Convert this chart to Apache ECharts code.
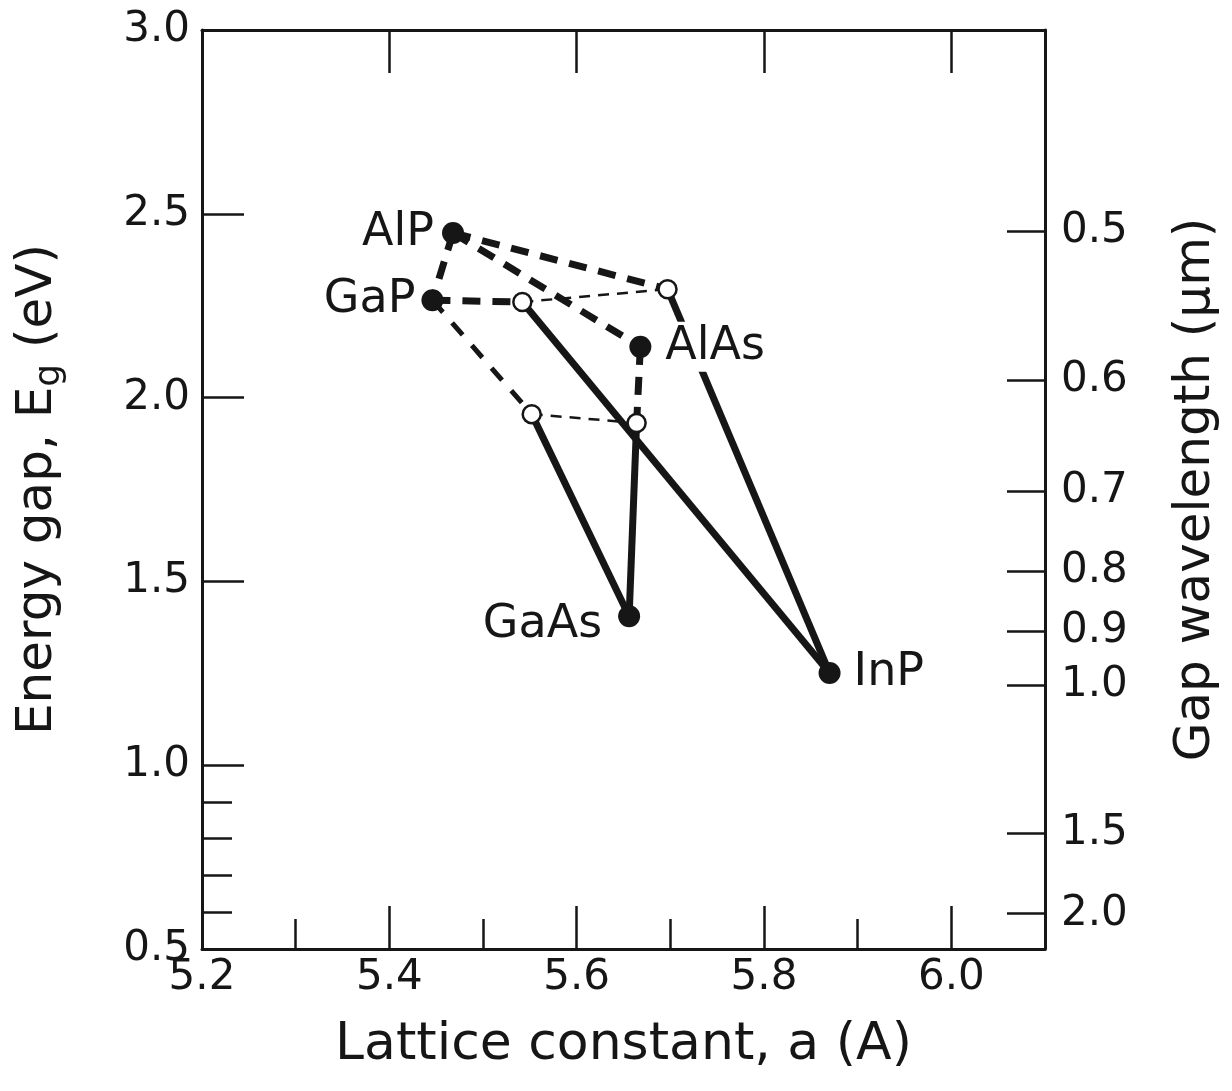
<!DOCTYPE html>
<html>
<head>
<meta charset="utf-8">
<script src="https://cdn.jsdelivr.net/npm/echarts@6/dist/echarts.min.js"></script>
<style>
  html, body { margin: 0; padding: 0; background: #fff; }
  #main { width: 1232px; height: 1091px; }
</style>
</head>
<body>
<div id="main"></div>
<script>
// binary compounds (filled dots)
const compounds = ['AlP', 'GaP', 'AlAs', 'GaAs', 'InP'];
const compoundA = [5.468, 5.446, 5.668, 5.656, 5.870];
const compoundEg = [2.448, 2.265, 2.138, 1.405, 1.251];

// direct-indirect crossover points (open circles)
const crossKeys = ['c1', 'c2', 'c3', 'c4'];
const crossA = [5.542, 5.697, 5.552, 5.664];
const crossEg = [2.260, 2.295, 1.955, 1.931];

// connecting lines: from, to, style
const segments = [
  ['AlP', 'c2', 'thick'],
  ['c2', 'InP', 'solid'],
  ['AlP', 'AlAs', 'thick'],
  ['AlP', 'GaP', 'thick'],
  ['GaP', 'c1', 'thick'],
  ['c1', 'InP', 'solid'],
  ['c1', 'c2', 'thin'],
  ['GaP', 'c3', 'medium'],
  ['c3', 'GaAs', 'solid'],
  ['c3', 'c4', 'thin'],
  ['AlAs', 'c4', 'thick'],
  ['c4', 'GaAs', 'solid']
];

// axes
const xLabels = [5.2, 5.4, 5.6, 5.8, 6.0];
const xMajor = [5.4, 5.6, 5.8, 6.0];
const xMinor = [5.3, 5.5, 5.7, 5.9];
const yMinor = [0.6, 0.7, 0.8, 0.9];
const wavelengthLabels = ['0.5', '0.6', '0.7', '0.8', '0.9', '1.0', '1.5', '2.0'];
const wavelengthTickEg = [2.453, 2.048, 1.746, 1.528, 1.365, 1.218, 0.816, 0.596];

const ink = '#161616';
const font = 'DejaVu Sans';

const pts = {};
compounds.forEach((k, i) => { pts[k] = [compoundA[i], compoundEg[i]]; });
crossKeys.forEach((k, i) => { pts[k] = [crossA[i], crossEg[i]]; });

const lineStyles = {
  thick: { width: 7, type: [18, 12] },
  medium: { width: 5, type: [16, 14] },
  thin: { width: 2.5, type: [11, 8] },
  solid: { width: 7, type: 'solid' }
};

const labelPos = {
  AlP: { position: 'left', distance: 8 },
  GaP: { position: 'left', distance: 6 },
  AlAs: { position: 'right', distance: 10, backgroundColor: '#fff', padding: [2, 4, 2, 4] },
  GaAs: { position: 'left', distance: 16, offset: [0, 9] },
  InP: { position: 'right', distance: 13 }
};

const series = segments.map(s => ({
  type: 'line',
  data: [pts[s[0]], pts[s[1]]],
  symbol: 'none',
  silent: true,
  z: 2,
  lineStyle: Object.assign({ color: ink, cap: 'butt', opacity: 1 }, lineStyles[s[2]])
}));

series.push({
  type: 'scatter',
  z: 4,
  symbolSize: 18,
  silent: true,
  itemStyle: { color: '#fff', borderColor: ink, borderWidth: 2.5, opacity: 1 },
  data: crossKeys.map(k => pts[k])
});

series.push({
  type: 'scatter',
  z: 5,
  symbolSize: 22,
  silent: true,
  itemStyle: { color: ink, opacity: 1 },
  data: compounds.map(k => ({
    value: pts[k],
    label: Object.assign({
      show: true,
      formatter: k,
      color: ink,
      opacity: 1,
      fontFamily: font,
      fontSize: 46
    }, labelPos[k])
  }))
});

const tickText = { color: ink, fontFamily: font, fontSize: 42 };

const option = {
  backgroundColor: '#fff',
  animation: false,
  grid: { left: 202, right: 187, top: 30, bottom: 142, containLabel: false, outerBoundsMode: 'none' },
  xAxis: [
    {
      type: 'value', position: 'bottom', min: 5.2, max: 6.1,
      axisLine: { lineStyle: { color: ink, width: 3 } },
      axisTick: { inside: true, length: 43, customValues: xMajor, lineStyle: { color: ink, width: 2.5 } },
      axisLabel: Object.assign({ customValues: xLabels, margin: 8, formatter: v => v.toFixed(1) }, tickText),
      splitLine: { show: false },
      name: 'Lattice constant, a (A)',
      nameLocation: 'middle',
      nameGap: 70,
      nameTextStyle: { color: ink, fontFamily: font, fontSize: 52 }
    },
    {
      type: 'value', position: 'top', min: 5.2, max: 6.1,
      axisLine: { lineStyle: { color: ink, width: 3 } },
      axisTick: { inside: true, length: 43, customValues: xMajor, lineStyle: { color: ink, width: 2.5 } },
      axisLabel: { show: false },
      splitLine: { show: false }
    },
    {
      type: 'value', position: 'bottom', min: 5.2, max: 6.1,
      axisLine: { show: false },
      axisTick: { inside: true, length: 30, customValues: xMinor, lineStyle: { color: ink, width: 2.5 } },
      axisLabel: { show: false },
      splitLine: { show: false }
    }
  ],
  yAxis: [
    {
      type: 'value', position: 'left', min: 0.5, max: 3.0, interval: 0.5,
      axisLine: { lineStyle: { color: ink, width: 3 } },
      axisTick: { inside: true, length: 42, lineStyle: { color: ink, width: 2.5 } },
      axisLabel: Object.assign({ margin: 12, formatter: v => v.toFixed(1) }, tickText),
      splitLine: { show: false },
      name: '{n|Energy gap, E}{s|g}{n| (eV)}',
      nameLocation: 'middle',
      nameGap: 134,
      nameTextStyle: {
        color: ink, fontFamily: font, fontSize: 50,
        rich: {
          n: { color: ink, fontFamily: font, fontSize: 50 },
          s: { color: ink, fontFamily: font, fontSize: 36, padding: [24, 0, 0, 0] }
        }
      }
    },
    {
      type: 'value', position: 'right', min: 0.5, max: 3.0,
      axisLine: { lineStyle: { color: ink, width: 3 } },
      axisTick: { inside: true, length: 38, customValues: wavelengthTickEg, lineStyle: { color: ink, width: 2.5 } },
      axisLabel: Object.assign({
        customValues: wavelengthTickEg,
        margin: 16,
        hideOverlap: false,
        formatter: v => {
          const i = wavelengthTickEg.findIndex(e => Math.abs(e - v) < 1e-6);
          return i >= 0 ? wavelengthLabels[i] : '';
        }
      }, tickText),
      splitLine: { show: false },
      name: 'Gap wavelength (μm)',
      nameLocation: 'middle',
      nameGap: 126,
      nameTextStyle: { color: ink, fontFamily: font, fontSize: 50 }
    },
    {
      type: 'value', position: 'left', min: 0.5, max: 3.0,
      axisLine: { show: false },
      axisTick: { inside: true, length: 30, customValues: yMinor, lineStyle: { color: ink, width: 2.5 } },
      axisLabel: { show: false },
      splitLine: { show: false }
    }
  ],
  series: series
};

const chart = echarts.init(document.getElementById('main'));
chart.setOption(option);
</script>
</body>
</html>
